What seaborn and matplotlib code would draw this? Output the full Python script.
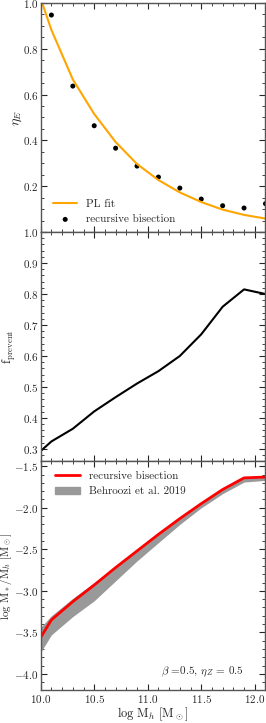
import numpy as np
import pandas as pd
import matplotlib
matplotlib.use('Agg')
import matplotlib.pyplot as plt
import seaborn as sns
from matplotlib.ticker import AutoMinorLocator
from matplotlib.patches import Patch
from matplotlib.lines import Line2D

# halo mass grid (log M_h)
log_mh = [9.9, 10.1, 10.3, 10.5, 10.7, 10.9, 11.1, 11.3, 11.5, 11.7, 11.9, 12.1]

# top panel: mass loading eta_E
eta_fit = [1.155, 0.882, 0.666, 0.515, 0.393, 0.297, 0.227, 0.173, 0.131, 0.098, 0.075, 0.059]
eta_bisect = [0.947, 0.637, 0.464, 0.366, 0.288, 0.240, 0.192, 0.144, 0.115, 0.105, 0.124]

# middle panel: f_prevent
f_prevent = [0.262, 0.324, 0.365, 0.421, 0.467, 0.511, 0.551, 0.600, 0.670, 0.759, 0.815, 0.800]

# bottom panel: stellar-to-halo mass ratio
smhm_bisect = [-3.77, -3.35, -3.13, -2.93, -2.72, -2.52, -2.32, -2.13, -1.95, -1.78, -1.64, -1.63]
behroozi_hi = [-3.58, -3.30, -3.09, -2.90, -2.71, -2.51, -2.31, -2.12, -1.94, -1.77, -1.64, -1.63]
behroozi_lo = [-3.95, -3.53, -3.31, -3.12, -2.88, -2.64, -2.42, -2.20, -2.00, -1.83, -1.69, -1.67]

sns.set_style('ticks')
plt.rcParams['font.family'] = ['cmr10', 'DejaVu Serif']
plt.rcParams['mathtext.fontset'] = 'cm'
plt.rcParams['axes.formatter.use_mathtext'] = True
plt.rcParams['axes.unicode_minus'] = True
plt.rcParams['axes.edgecolor'] = '#555555'
plt.rcParams['axes.linewidth'] = 1.0

fig = plt.figure(figsize=(2.66, 7.23), dpi=100)
gs = fig.add_gridspec(3, 1, left=0.153, right=0.998, top=0.996, bottom=0.045, hspace=0)
ax1 = fig.add_subplot(gs[0])
ax2 = fig.add_subplot(gs[1], sharex=ax1)
ax3 = fig.add_subplot(gs[2], sharex=ax1)

df = pd.DataFrame({'log_mh': log_mh, 'eta_fit': eta_fit, 'f_prevent': f_prevent,
                   'smhm': smhm_bisect, 'lo': behroozi_lo, 'hi': behroozi_hi})
dots = pd.DataFrame({'log_mh': log_mh[1:], 'eta': eta_bisect})

# panel 1
sns.lineplot(data=df, x='log_mh', y='eta_fit', color='orange', lw=1.5, ax=ax1, label='PL fit')
sns.scatterplot(data=dots, x='log_mh', y='eta', color='black', s=13, edgecolor='none',
                ax=ax1, label='recursive bisection')
ax1.set_ylim(0, 1.0)
ax1.set_yticks([0.2, 0.4, 0.6, 0.8, 1.0])
ax1.set_ylabel(r'$\eta_E$', fontsize=10)
ax1.yaxis.set_label_coords(-0.075, 0.5)
ax1.legend(loc='lower left', frameon=False, fontsize=8, handlelength=2.2,
           borderaxespad=0.3, bbox_to_anchor=(0.02, 0.0))

# panel 2
sns.lineplot(data=df, x='log_mh', y='f_prevent', color='black', lw=1.5, ax=ax2)
ax2.set_ylim(0.26, 1.0)
ax2.set_ylabel(r'$\mathrm{f_{prevent}}$', fontsize=9)
ax2.yaxis.set_label_coords(-0.1, 0.5)

# panel 3
ax3.fill_between(df['log_mh'], df['lo'], df['hi'], color='0.6', lw=0)
sns.lineplot(data=df, x='log_mh', y='smhm', color='red', lw=2, ax=ax3)
ax3.set_ylim(-4.2, -1.44)
ax3.set_ylabel(r'$\log\,\mathrm{M_*/M_{\it h}\ [M_\odot]}$', fontsize=8)
ax3.yaxis.set_label_coords(-0.117, 0.5)
ax3.set_xlabel(r'$\log\,\mathrm{M_{\it h}\ [M_\odot]}$', fontsize=9, labelpad=0)
handles = [Line2D([], [], color='red', lw=2), Patch(color='0.6')]
ax3.legend(handles, ['recursive bisection', 'Behroozi et al. 2019'], loc='upper left',
           frameon=False, fontsize=8, handlelength=2.2, bbox_to_anchor=(0.02, 1.0))
ax3.text(0.72, 0.08, r'$\beta$ =0.5, $\eta_Z$ = 0.5', transform=ax3.transAxes,
         ha='center', va='center', fontsize=8)

ax1.set_xlim(10.0, 12.1)
for ax in (ax1, ax2, ax3):
    ax.xaxis.set_minor_locator(AutoMinorLocator(5))
    ax.yaxis.set_minor_locator(AutoMinorLocator())
    ax.tick_params(which='both', direction='in', top=True, right=True, labelsize=8)
    ax.tick_params(which='major', length=4, width=0.8)
    ax.tick_params(which='minor', length=2, width=0.6)
    ax.tick_params(axis='x', pad=2)
    ax.tick_params(axis='y', pad=1.5)
    if ax is not ax3:
        ax.set_xlabel('')
        ax.tick_params(labelbottom=False)

fig.savefig('out.png', dpi=100)
